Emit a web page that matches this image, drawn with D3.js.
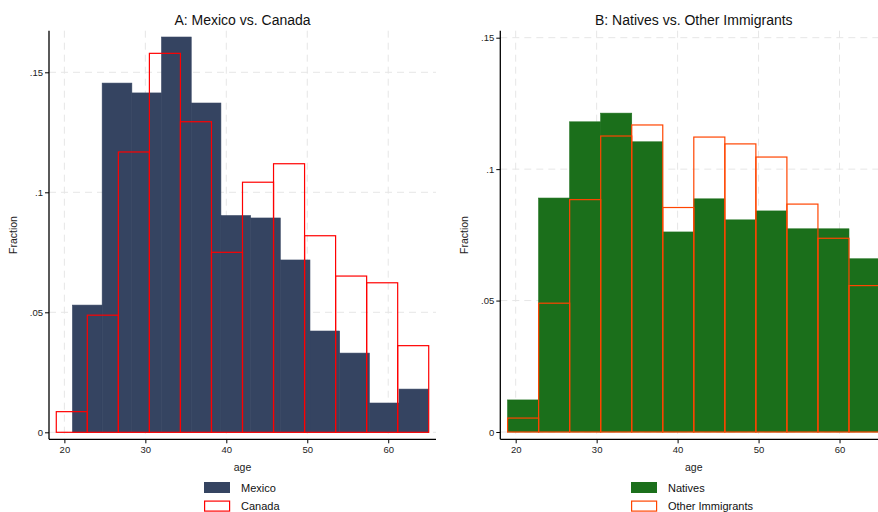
<!DOCTYPE html>
<html>
<head>
<meta charset="utf-8">
<script src="https://cdn.jsdelivr.net/npm/d3@7/dist/d3.min.js"></script>
<style>
  html, body { margin: 0; padding: 0; background: #fff; }
  svg { display: block; font-family: "Liberation Sans", Arial, Helvetica, sans-serif; }
</style>
</head>
<body>
<svg id="chart" width="878" height="512"></svg>
<script>
// Age histograms (fraction of each group per age bin)
const mexicoFraction = [0.0530, 0.1455, 0.1414, 0.1647, 0.1372, 0.0903, 0.0893, 0.0718, 0.0422, 0.0330, 0.0122, 0.0180];
const canadaFraction = [0.0086, 0.0488, 0.1168, 0.1579, 0.1294, 0.0750, 0.1042, 0.1119, 0.0819, 0.0651, 0.0623, 0.0361];
const nativesFraction = [0.0122, 0.0890, 0.1180, 0.1213, 0.1104, 0.0761, 0.0887, 0.0807, 0.0841, 0.0773, 0.0773, 0.0659];
const otherImmFraction = [0.0053, 0.0490, 0.0884, 0.1126, 0.1168, 0.0854, 0.1122, 0.1096, 0.1046, 0.0867, 0.0737, 0.0557];

// Bin layout: first edge and the age range covered by 12 bins
const mexicoBins = { start: 21, end: 65, n: 12 };
const canadaBins = { start: 19, end: 65, n: 12 };
const nativesBins = { start: 19, end: 65, n: 12 };
const otherImmBins = { start: 19, end: 65, n: 12 };

const xTicks = [20, 30, 40, 50, 60];
const yTicks = [0, 0.05, 0.1, 0.15];
const yTickLabels = ["0", ".05", ".1", ".15"];

const svg = d3.select("#chart");

function binsOf(values, spec) {
  const w = (spec.end - spec.start) / spec.n;
  return values.map((v, i) => ({ x0: spec.start + i * w, x1: spec.start + (i + 1) * w, v }));
}

function panel(cfg) {
  const g = svg.append("g");
  const x = d3.scaleLinear().domain([18.1, 65.9]).range([cfg.left, cfg.left + 387]);
  const y = d3.scaleLinear().domain([0, 0.15]).range([cfg.y0, cfg.y15]);
  const top = 30.7, axisY = 439.3;

  // clip so anything past the page edge is simply cut off
  const clipId = "clip" + cfg.id;
  svg.append("clipPath").attr("id", clipId)
    .append("rect").attr("x", cfg.left).attr("y", top).attr("width", 387).attr("height", axisY - top);

  // dashed grid
  const grid = g.append("g").attr("stroke", "#e6e6e6").attr("stroke-width", 1).attr("stroke-dasharray", "7,5");
  grid.selectAll(".vg").data(xTicks).join("line")
    .attr("x1", d => x(d)).attr("x2", d => x(d)).attr("y1", top).attr("y2", axisY);
  grid.selectAll(".hg").data(yTicks).join("line")
    .attr("x1", cfg.left).attr("x2", cfg.left + 387).attr("y1", d => y(d)).attr("y2", d => y(d));

  const bars = g.append("g").attr("clip-path", `url(#${clipId})`);
  // filled series (thin same-colour stroke hides seams between neighbours)
  bars.selectAll(".fill").data(binsOf(cfg.fillValues, cfg.fillBins)).join("rect")
    .attr("x", d => x(d.x0)).attr("width", d => x(d.x1) - x(d.x0))
    .attr("y", d => y(d.v)).attr("height", d => y(0) - y(d.v))
    .attr("fill", cfg.fillColor).attr("stroke", cfg.fillColor).attr("stroke-width", 0.6);
  // outlined series on top
  bars.selectAll(".outline").data(binsOf(cfg.lineValues, cfg.lineBins)).join("rect")
    .attr("x", d => x(d.x0)).attr("width", d => x(d.x1) - x(d.x0))
    .attr("y", d => y(d.v)).attr("height", d => y(0) - y(d.v))
    .attr("fill", "none").attr("stroke", cfg.lineColor).attr("stroke-width", 1.2);

  // y axis
  const yAxis = d3.axisLeft(y).tickValues(yTicks).tickSize(4).tickPadding(2)
    .tickFormat((d, i) => yTickLabels[i]);
  const ya = g.append("g").attr("transform", `translate(${cfg.left},0)`).call(yAxis);
  ya.select(".domain").remove();
  ya.selectAll("text").attr("font-size", "9.5px").attr("fill", "#222").attr("font-family", "Liberation Sans, Arial, sans-serif");
  ya.selectAll("line").attr("stroke", "#000");
  g.append("line").attr("x1", cfg.left).attr("x2", cfg.left).attr("y1", top).attr("y2", axisY)
    .attr("stroke", "#000").attr("stroke-width", 1.3);

  // x axis
  const xAxis = d3.axisBottom(x).tickValues(xTicks).tickSize(4).tickPadding(3);
  const xa = g.append("g").attr("transform", `translate(0,${axisY})`).call(xAxis);
  xa.select(".domain").remove();
  xa.selectAll("text").attr("font-size", "9.5px").attr("fill", "#222").attr("font-family", "Liberation Sans, Arial, sans-serif");
  xa.selectAll("line").attr("stroke", "#000");
  g.append("line").attr("x1", cfg.left).attr("x2", cfg.left + 387).attr("y1", axisY).attr("y2", axisY)
    .attr("stroke", "#000").attr("stroke-width", 1.3);

  const cx = cfg.left + 387 / 2;
  // title
  g.append("text").attr("x", cx).attr("y", 25).attr("text-anchor", "middle")
    .attr("font-size", "14px").attr("fill", "#111").text(cfg.title);
  // axis titles
  g.append("text").attr("x", cx).attr("y", 470.5).attr("text-anchor", "middle")
    .attr("font-size", "10.5px").attr("fill", "#222").text("age");
  g.append("text").attr("transform", `translate(${cfg.fracX},235) rotate(-90)`)
    .attr("text-anchor", "middle").attr("dy", "0.35em")
    .attr("font-size", "10.5px").attr("fill", "#222").text("Fraction");

  // legend
  const lg = g.append("g").attr("transform", `translate(${cfg.legendX},0)`);
  lg.append("rect").attr("x", 0).attr("y", 482).attr("width", 26).attr("height", 11).attr("fill", cfg.fillColor);
  lg.append("rect").attr("x", 0.6).attr("y", 501.1).attr("width", 25).attr("height", 10).attr("fill", "none")
    .attr("stroke", cfg.lineColor).attr("stroke-width", 1.2);
  lg.append("text").attr("x", 37).attr("y", 491.5).attr("font-size", "11px").attr("fill", "#111").text(cfg.fillName);
  lg.append("text").attr("x", 37).attr("y", 510).attr("font-size", "11px").attr("fill", "#111").text(cfg.lineName);
}

panel({
  id: "A", left: 49, y0: 432.3, y15: 72.3, fracX: 13.5, legendX: 204,
  title: "A: Mexico vs. Canada",
  fillValues: mexicoFraction, fillBins: mexicoBins, fillColor: "#354461", fillName: "Mexico",
  lineValues: canadaFraction, lineBins: canadaBins, lineColor: "#ff0000", lineName: "Canada"
});

panel({
  id: "B", left: 500.3, y0: 432, y15: 37.7, fracX: 464.5, legendX: 631,
  title: "B: Natives vs. Other Immigrants",
  fillValues: nativesFraction, fillBins: nativesBins, fillColor: "#1b6f1b", fillName: "Natives",
  lineValues: otherImmFraction, lineBins: otherImmBins, lineColor: "#ff4500", lineName: "Other Immigrants"
});
</script>
</body>
</html>
